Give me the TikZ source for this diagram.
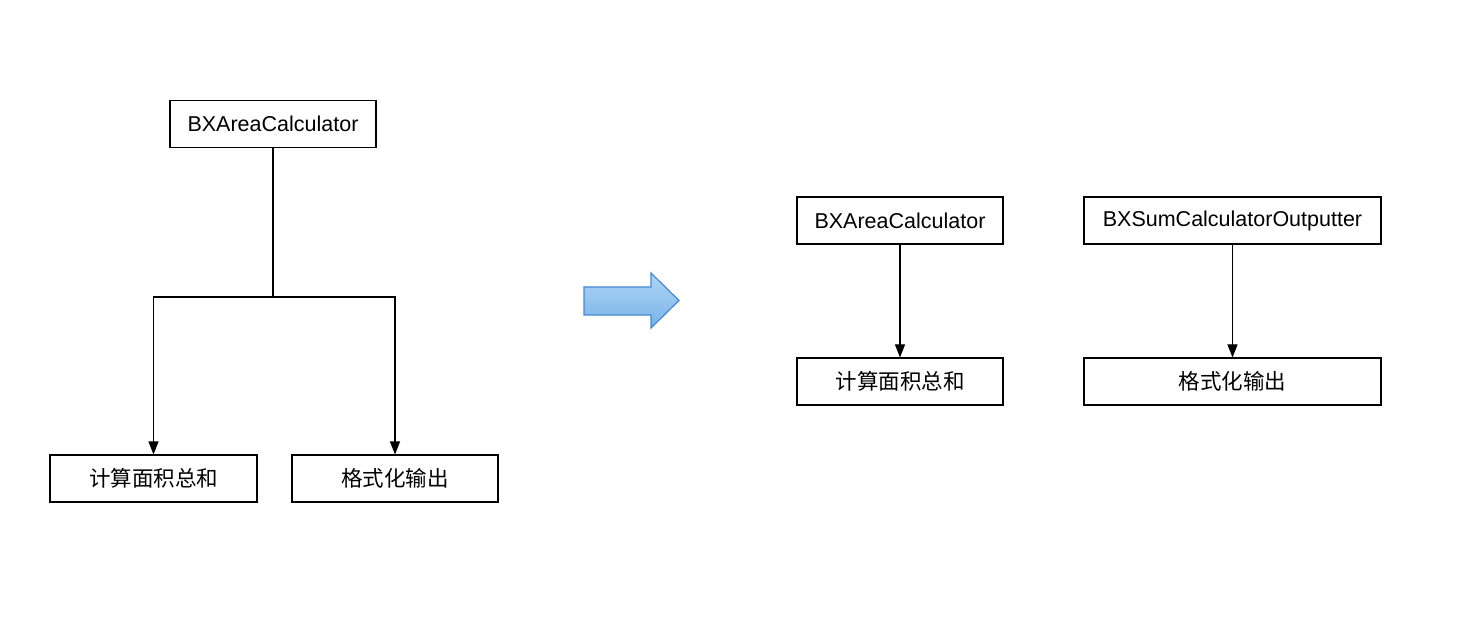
\documentclass[tikz,border=0pt]{standalone}
\usepackage{fontspec}
\setmainfont{Liberation Sans}
\newfontfamily\cjk{Noto Sans CJK SC}
\usetikzlibrary{arrows.meta}
\definecolor{arrtop}{RGB}{176,214,245}
\definecolor{arrbot}{RGB}{120,178,232}
\definecolor{arrline}{RGB}{70,135,205}
\begin{document}
\begin{tikzpicture}[x=1pt,y=-1pt,
  box/.style={draw=black,line width=1.1pt,fill=white,rectangle,inner sep=0pt,
    minimum height=47pt,font=\fontsize{21.5}{26}\selectfont},
  conn/.style={line width=1.1pt,-{Triangle[length=13pt,width=10pt]}},
  line/.style={line width=1.1pt}]
\fill[white] (0,0) rectangle (1468,620);
\useasboundingbox (0,0) rectangle (1468,620);
% left
\node[box,minimum width=206pt] (lt) at (273,124) {BXAreaCalculator};
\node[box,minimum width=207pt] (la) at (153.5,478.5) {\cjk 计算面积总和};
\node[box,minimum width=206pt] (lb) at (395,478.5) {\cjk 格式化输出};
\coordinate (lm) at (273,297);
\draw[line] (lt.south) -- (lm);
\draw[conn] (lm) -| (la.north);
\draw[conn] (lm) -| (lb.north);
% arrow
\shade[top color=arrtop,bottom color=arrbot,draw=arrline,line width=1.2pt,line join=miter]
  (584,287) -- (651,287) -- (651,273) -- (679,300.5) -- (651,328) -- (651,315) -- (584,315) -- cycle;
% right
\node[box,minimum width=206pt] (ra) at (900,220.5) {BXAreaCalculator};
\node[box,minimum width=297pt] (rb) at (1232.5,220.5) {BXSumCalculatorOutputter};
\node[box,minimum width=206pt] (rc) at (900,381.5) {\cjk 计算面积总和};
\node[box,minimum width=297pt] (rd) at (1232.5,381.5) {\cjk 格式化输出};
\draw[conn] (ra.south) -- (rc.north);
\draw[conn] (rb.south) -- (rd.north);
\end{tikzpicture}
\end{document}
